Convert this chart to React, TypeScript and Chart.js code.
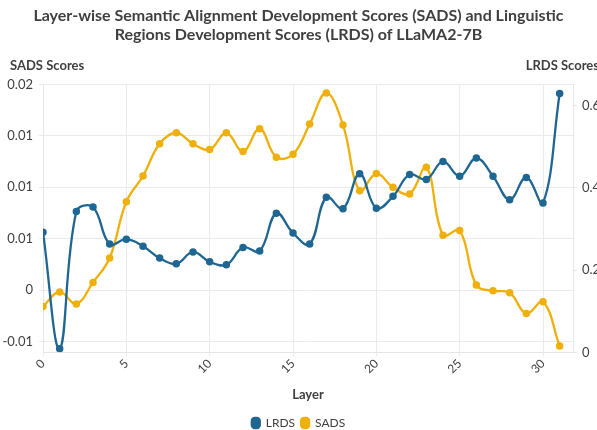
import React, { useEffect, useRef } from "react";
import { Chart, registerables } from "chart.js";

Chart.register(...registerables);

const layers: number[] = Array.from({ length: 32 }, (_, i) => i);

const lrdsValues: number[] = [
  0.292, 0.009, 0.342, 0.353, 0.263, 0.275, 0.258, 0.229, 0.215, 0.244,
  0.22, 0.213, 0.255, 0.246, 0.338, 0.29, 0.263, 0.377, 0.349, 0.434,
  0.35, 0.379, 0.432, 0.42, 0.464, 0.428, 0.472, 0.428, 0.371, 0.425,
  0.363, 0.629,
];

const sadsValues: number[] = [
  -0.00159, -0.00017, -0.00134, 0.00075, 0.00313, 0.00859, 0.0111, 0.01423,
  0.0153, 0.01423, 0.01367, 0.0153, 0.01348, 0.01569, 0.01292, 0.01321,
  0.01614, 0.01917, 0.01605, 0.00967, 0.01133, 0.00999, 0.00935, 0.01194,
  0.00534, 0.00579, 0.00049, -0.00007, -0.00026, -0.00228, -0.00114, -0.00544,
];

const titleLines: string[] = [
  "Layer-wise Semantic Alignment Development Scores (SADS) and Linguistic",
  "Regions Development Scores (LRDS) of LLaMA2-7B",
];

const FONT = "Lato, 'Open Sans', sans-serif";
const BLUE = "#1f6792";
const YELLOW = "#efb00c";
const TEXT = "#3f3f3f";

const axisTitlePlugin = {
  id: "axisTitles",
  afterDraw(chart: any) {
    const ctx = chart.ctx;
    ctx.save();
    ctx.font = `bold 13px ${FONT}`;
    ctx.fillStyle = TEXT;
    ctx.textBaseline = "middle";
    ctx.textAlign = "left";
    ctx.fillText("SADS Scores", 10, 66);
    ctx.textAlign = "right";
    ctx.fillText("LRDS Scores", 599, 66);
    ctx.restore();
  },
};

export default function App() {
  const ref = useRef<HTMLCanvasElement | null>(null);

  useEffect(() => {
    document.body.style.margin = "0";
    const canvas = ref.current;
    if (!canvas) return;
    const chart = new Chart(canvas, {
      type: "line",
      data: {
        labels: layers,
        datasets: [
          {
            label: "LRDS",
            data: layers.map((x, i) => ({ x, y: lrdsValues[i] })),
            borderColor: BLUE,
            backgroundColor: BLUE,
            yAxisID: "yRight",
            borderWidth: 2.3,
            pointRadius: 2.6,
            tension: 0.4,
          },
          {
            label: "SADS",
            data: layers.map((x, i) => ({ x, y: sadsValues[i] })),
            borderColor: YELLOW,
            backgroundColor: YELLOW,
            yAxisID: "yLeft",
            borderWidth: 2.3,
            pointRadius: 2.6,
            tension: 0.4,
          },
        ],
      },
      options: {
        responsive: false,
        animation: false,
        layout: { padding: { top: 0, left: 0, right: 0, bottom: -9 } },
        plugins: {
          title: {
            display: true,
            text: titleLines,
            color: TEXT,
            font: { family: FONT, size: 16, weight: "bold", lineHeight: 1.2 },
            padding: { top: 6, bottom: 40 },
          },
          legend: {
            position: "bottom",
            labels: {
              color: TEXT,
              font: { family: FONT, size: 12 },
              boxWidth: 8,
              boxHeight: 10,
              useBorderRadius: true,
              borderRadius: 3,
              padding: 6,
            },
          },
          tooltip: { enabled: false },
        },
        scales: {
          x: {
            type: "linear",
            min: 0,
            max: 31.8,
            ticks: {
              stepSize: 5,
              includeBounds: false,
              minRotation: 45,
              maxRotation: 45,
              padding: 0,
              color: TEXT,
              font: { family: FONT, size: 12 },
            },
            grid: { color: "#ebebeb", drawTicks: true, tickLength: 4 },
            border: { color: "#e6e6e6" },
            title: {
              display: true,
              text: "Layer",
              color: TEXT,
              font: { family: FONT, size: 13, weight: "bold" },
              padding: { top: 11, bottom: 8 },
            },
          },
          yLeft: {
            type: "linear",
            position: "left",
            min: -0.00605,
            max: 0.02,
            ticks: {
              stepSize: 0.005,
              includeBounds: false,
              color: TEXT,
              font: { family: FONT, size: 13 },
              padding: 6,
              callback: (v: any) => {
                const s = Number(v).toFixed(2);
                return s === "-0.00" ? "0" : s === "0.00" ? "0" : s;
              },
            },
            grid: { color: "#ebebeb", tickLength: 4 },
            border: { color: "#e6e6e6" },
            afterFit: (s: any) => {
              s.width = 43;
            },
          },
          yRight: {
            type: "linear",
            position: "right",
            min: 0,
            max: 0.651,
            ticks: {
              stepSize: 0.2,
              includeBounds: false,
              color: TEXT,
              font: { family: FONT, size: 13 },
              padding: 5,
              callback: (v: any) => {
                const n = Math.round(Number(v) * 10) / 10;
                return n === 0 ? "0" : String(n);
              },
            },
            grid: { drawOnChartArea: false, tickLength: 4, color: "#e6e6e6" },
            border: { color: "#e6e6e6" },
            afterFit: (s: any) => {
              s.width = 24;
            },
          },
        },
      },
      plugins: [axisTitlePlugin],
    } as any);
    return () => chart.destroy();
  }, []);

  return (
    <div style={{ width: 597, height: 430, overflow: "hidden" }}>
      <canvas ref={ref} width={597} height={430} style={{ display: "block" }} />
    </div>
  );
}
